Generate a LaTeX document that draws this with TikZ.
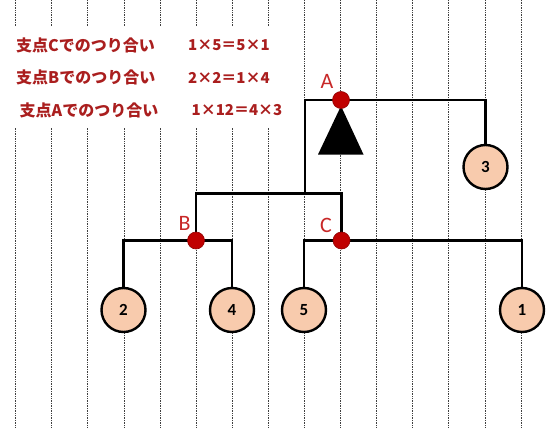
\documentclass[tikz,border=0pt]{standalone}
\usepackage{fontspec}
\setmainfont{Carlito}
\newfontfamily\jpfont{Noto Sans CJK JP}
\definecolor{textred}{RGB}{170,30,30}
\definecolor{labred}{RGB}{200,40,40}
\definecolor{dotred}{RGB}{192,0,0}
\definecolor{peach}{RGB}{248,203,173}

\begin{document}
\begin{tikzpicture}[x=1pt,y=-1pt,
		grid/.style={densely dotted,line width=0.7pt,color=black!75},
		beam/.style={line width=2.6pt},
		weight/.style={circle,draw,line width=2.4pt,fill=peach,minimum size=44pt,inner sep=0pt,font=\bfseries\fontsize{17}{17}\selectfont},
		pivot/.style={circle,fill=dotred,draw=dotred!75!black,line width=0.6pt,minimum size=17pt,inner sep=0pt},
		plabel/.style={text=labred,font=\fontsize{22}{22}\selectfont},
		jp/.style={anchor=west,text=textred,inner sep=0pt,font=\jpfont\bfseries\fontsize{16}{16}\selectfont},
		jpeq/.style={jp,font=\jpfont\bfseries\fontsize{15}{15}\selectfont}]
		%%%%% START %%%%%
		
		\useasboundingbox (0,0) rectangle (557,428);
		
		\foreach \i in {0,...,14}
			\draw[grid] ({15.6+36.1*\i},0) -- ({15.6+36.1*\i},428);
		\fill[white] (0,27) rectangle (291,128);
		
		\node[jp] (balC) at (16,45) {支点Cでのつり合い};
		\node[jpeq] (eqC) at (188,45) {1×5＝5×1};
		\node[jp] (balB) at (16,77.5) {支点Bでのつり合い};
		\node[jpeq] (eqB) at (188,77.5) {2×2＝1×4};
		\node[jp] (balA) at (19.5,110) {支点Aでのつり合い};
		\node[jpeq] (eqA) at (191.5,110) {1×12＝4×3};
		
		\coordinate (A) at (341,100);
		\coordinate (D) at (305,193.5);
		\coordinate (B) at (196,240.5);
		\coordinate (C) at (341.5,240.5);
		
		\node[weight] (w3) at (485.5,167) {3};
		\node[weight] (w2) at (123.5,310) {2};
		\node[weight] (w4) at (232,310) {4};
		\node[weight] (w5) at (304,310) {5};
		\node[weight] (w1) at (522,310) {1};
		
		\draw[beam] (w3.north) |- (A) -| (D);
		\draw[beam] (B) |- (D) -| (C);
		\draw[beam] (w2.north) |- (B) -| (w4.north);
		\draw[beam] (w5.north) |- (C) -| (w1.north);
		
		\fill (341,106) -- (318,154.5) -- (363.5,154.5) -- cycle;
		
		\node[pivot] (pA) at (A) {};
		\node[pivot] (pB) at (B) {};
		\node[pivot] (pC) at (C) {};
		
		\node[plabel] (labA) at (327,81) {A};
		\node[plabel] (labB) at (184.5,223) {B};
		\node[plabel] (labC) at (326,225) {C};
		
		%%%%% END %%%%%
	\end{tikzpicture}
\end{document}
